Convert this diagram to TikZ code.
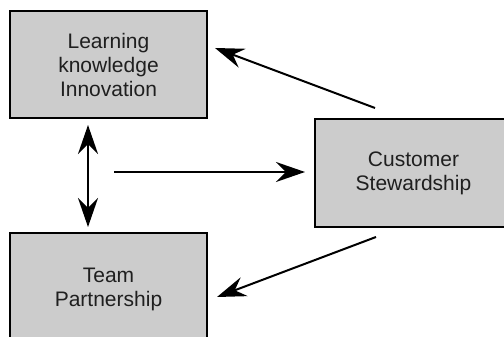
\documentclass[tikz,border=0pt]{standalone}
\usepackage{fontspec}
\setmainfont{Liberation Sans}
\usepackage{tikz}
\usetikzlibrary{arrows.meta}
\definecolor{boxgray}{RGB}{204,204,204}
\tikzstyle{block}=[draw=black,line width=2pt,fill=boxgray,align=center,minimum width=197pt,font=\fontsize{21}{24}\selectfont,text=black!88]
\tikzstyle{link}=[line width=2pt,-{Stealth[length=29pt,width=20pt,inset=10pt]}]
\tikzstyle{twoway}=[line width=2pt,{Stealth[length=29pt,width=20pt,inset=10pt]}-{Stealth[length=29pt,width=20pt,inset=10pt]}]

\begin{document}
\begin{tikzpicture}[x=1pt,y=1pt]
  \clip (0,0) rectangle (504,337);
  \node [block,minimum height=107pt] (learn) at (108.5,272.5) {Learning\\knowledge\\Innovation};
  \node [block,minimum height=108pt] (cust) at (413.5,164) {Customer\\Stewardship};
  \node [block,minimum height=112pt] (team) at (108.5,48) {Team\\Partnership};
  \coordinate (mid) at (114,165);
  \draw [twoway] ([shift={(-20.5,-6)}]learn.south) -- ([shift={(-20.5,5)}]team.north);
  \draw [link] (mid) -- ([shift={(-9,1)}]cust.west);
  \draw [link] ([shift={(-38.5,10)}]cust.north) -- ([shift={(7,16.5)}]learn.east);
  \draw [link] ([shift={(-37.5,-9)}]cust.south) -- ([shift={(9,-8)}]team.east);
\end{tikzpicture}
\end{document}
